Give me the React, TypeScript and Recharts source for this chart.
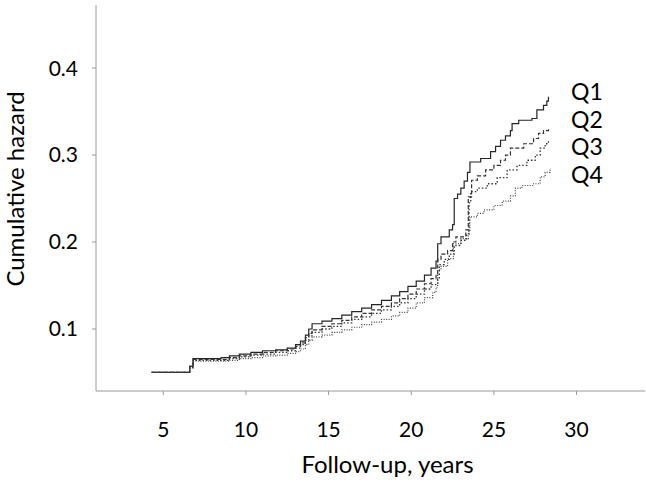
import { LineChart, Line, XAxis, YAxis, Label } from "recharts"

// follow-up time (years) and cumulative hazard, per quartile
const q1Time = [4.3, 6.5, 6.6, 6.8, 7.5, 8.5, 9.0, 9.6, 10.3, 11.0, 11.8, 12.5, 13.0, 13.3, 13.6, 13.8, 14.0, 14.6, 15.2, 15.8, 16.4, 17.0, 17.6, 18.2, 18.8, 19.3, 19.8, 20.3, 20.8, 21.2, 21.5, 21.6, 21.8, 22.3, 22.5, 22.6, 22.8, 23.0, 23.2, 23.4, 23.55, 24.2, 24.8, 25.1, 25.4, 25.7, 26.0, 26.1, 26.5, 27.3, 27.6, 28.0, 28.2, 28.3]
const q1Hazard = [0.05, 0.05, 0.057, 0.066, 0.066, 0.067, 0.069, 0.071, 0.073, 0.075, 0.076, 0.078, 0.082, 0.086, 0.093, 0.1, 0.106, 0.109, 0.112, 0.116, 0.12, 0.124, 0.128, 0.133, 0.138, 0.143, 0.149, 0.155, 0.162, 0.17, 0.178, 0.198, 0.206, 0.214, 0.22, 0.25, 0.255, 0.262, 0.27, 0.28, 0.292, 0.296, 0.304, 0.31, 0.317, 0.322, 0.328, 0.336, 0.34, 0.342, 0.352, 0.357, 0.362, 0.367]

const q2Time = [4.3, 6.5, 6.6, 6.8, 8.0, 9.0, 9.6, 10.3, 11.0, 11.8, 12.5, 13.0, 13.3, 13.6, 13.8, 14.0, 14.6, 15.2, 15.8, 16.4, 17.0, 17.6, 18.2, 18.8, 19.3, 19.8, 20.3, 20.8, 21.2, 21.5, 21.6, 21.8, 22.2, 22.5, 22.7, 23.3, 23.45, 23.65, 24.0, 24.5, 25.0, 25.4, 25.7, 26.0, 26.8, 27.4, 27.7, 28.0, 28.3]
const q2Hazard = [0.05, 0.05, 0.057, 0.065, 0.065, 0.067, 0.069, 0.071, 0.073, 0.075, 0.077, 0.08, 0.084, 0.09, 0.095, 0.099, 0.103, 0.106, 0.11, 0.114, 0.118, 0.122, 0.126, 0.13, 0.135, 0.14, 0.146, 0.152, 0.158, 0.163, 0.18, 0.186, 0.19, 0.2, 0.206, 0.214, 0.252, 0.271, 0.276, 0.283, 0.288, 0.294, 0.3, 0.308, 0.313, 0.319, 0.325, 0.328, 0.331]

const q3Time = [4.3, 6.5, 6.6, 6.8, 8.0, 9.0, 9.6, 10.3, 11.0, 11.8, 12.5, 13.0, 13.3, 13.6, 13.8, 14.0, 14.6, 15.2, 15.8, 16.4, 17.0, 17.6, 18.2, 18.8, 19.3, 19.8, 20.3, 20.8, 21.2, 21.6, 21.7, 22.0, 22.3, 22.6, 23.0, 23.35, 23.5, 23.6, 24.0, 24.6, 25.2, 25.8, 26.4, 27.0, 27.5, 27.8, 28.1, 28.3]
const q3Hazard = [0.05, 0.05, 0.056, 0.064, 0.064, 0.066, 0.068, 0.07, 0.071, 0.073, 0.075, 0.078, 0.082, 0.087, 0.092, 0.096, 0.1, 0.103, 0.107, 0.111, 0.114, 0.118, 0.122, 0.126, 0.13, 0.135, 0.14, 0.146, 0.151, 0.157, 0.174, 0.18, 0.186, 0.196, 0.202, 0.208, 0.245, 0.258, 0.262, 0.267, 0.274, 0.283, 0.288, 0.294, 0.3, 0.308, 0.313, 0.317]

const q4Time = [4.3, 6.5, 6.6, 6.8, 8.0, 9.0, 9.6, 10.3, 11.0, 11.8, 12.5, 13.0, 13.3, 13.6, 13.8, 14.0, 14.6, 15.2, 15.8, 16.4, 17.0, 17.6, 18.2, 18.8, 19.3, 19.8, 20.3, 20.8, 21.3, 21.5, 21.6, 21.8, 22.2, 22.55, 23.0, 23.45, 23.55, 24.0, 24.4, 25.0, 25.5, 26.0, 26.3, 26.7, 27.4, 27.8, 28.1, 28.4]
const q4Hazard = [0.05, 0.05, 0.055, 0.063, 0.063, 0.064, 0.066, 0.067, 0.069, 0.07, 0.072, 0.074, 0.077, 0.082, 0.087, 0.091, 0.093, 0.096, 0.099, 0.102, 0.105, 0.108, 0.111, 0.115, 0.119, 0.124, 0.13, 0.136, 0.142, 0.148, 0.168, 0.172, 0.181, 0.198, 0.204, 0.212, 0.229, 0.233, 0.237, 0.242, 0.247, 0.253, 0.262, 0.265, 0.267, 0.275, 0.28, 0.285]

const quartileNames = ["Q1", "Q2", "Q3", "Q4"]
const xTicks = [5, 10, 15, 20, 25, 30]
const yTicks = [0.1, 0.2, 0.3, 0.4]

const toPoints = (times: number[], hazards: number[]) =>
	times.map((time, i) => ({ time, hazard: hazards[i] }))

const series = [
	{ name: quartileNames[0], data: toPoints(q1Time, q1Hazard), dash: undefined, width: 1.2, color: "#262626" },
	{ name: quartileNames[1], data: toPoints(q2Time, q2Hazard), dash: "4 2", width: 1.2, color: "#333" },
	{ name: quartileNames[2], data: toPoints(q3Time, q3Hazard), dash: "1.5 2", width: 1.3, color: "#333" },
	{ name: quartileNames[3], data: toPoints(q4Time, q4Hazard), dash: "1 1.5", width: 1.2, color: "#444" },
]

const font = "Lato, 'Open Sans', sans-serif"
const axisColor = "#9a9a9a"

// label baselines in pixels, to the right of the curve ends
const labelBaselines = [100, 128, 155, 183]

export default function App() {
	return (
		<div style={{ position: "absolute", left: 0, top: 0, width: 646, height: 488, background: "#fff" }}>
			<LineChart width={646} height={488} margin={{ top: 5, right: 1, left: 0, bottom: 0 }}>
				<XAxis
					type="number"
					dataKey="time"
					domain={[0.93, 34.14]}
					ticks={xTicks}
					allowDataOverflow
					height={97}
					tickSize={4}
					tickMargin={27}
					stroke={axisColor}
					tick={{ fill: "#000", fontSize: 21, fontFamily: font }}
				>
					<Label value="Follow-up, years" position="insideBottom" offset={15} dx={17} fill="#000" fontSize={24} fontFamily={font} />
				</XAxis>
				<YAxis
					type="number"
					domain={[0.0287, 0.4725]}
					ticks={yTicks}
					allowDataOverflow
					width={96}
					tickSize={4}
					tickMargin={14}
					stroke={axisColor}
					tick={{ fill: "#000", fontSize: 21, fontFamily: font }}
				>
					<Label
						value="Cumulative hazard"
						angle={-90}
						position="insideLeft"
						offset={15}
						dy={-9}
						fill="#000"
						fontSize={24}
						fontFamily={font}
						style={{ textAnchor: "middle" }}
					/>
				</YAxis>
				{series.map((s) => (
					<Line
						key={s.name}
						data={s.data}
						dataKey="hazard"
						type="stepAfter"
						stroke={s.color}
						strokeWidth={s.width}
						strokeDasharray={s.dash}
						dot={false}
						activeDot={false}
						isAnimationActive={false}
					/>
				))}
			</LineChart>
			<svg width={646} height={488} style={{ position: "absolute", left: 0, top: 0, pointerEvents: "none" }}>
				{quartileNames.map((name, i) => (
					<text key={name} x={571} y={labelBaselines[i]} fontSize={23} fontFamily={font} fill="#000">
						{name}
					</text>
				))}
			</svg>
		</div>
	)
}
